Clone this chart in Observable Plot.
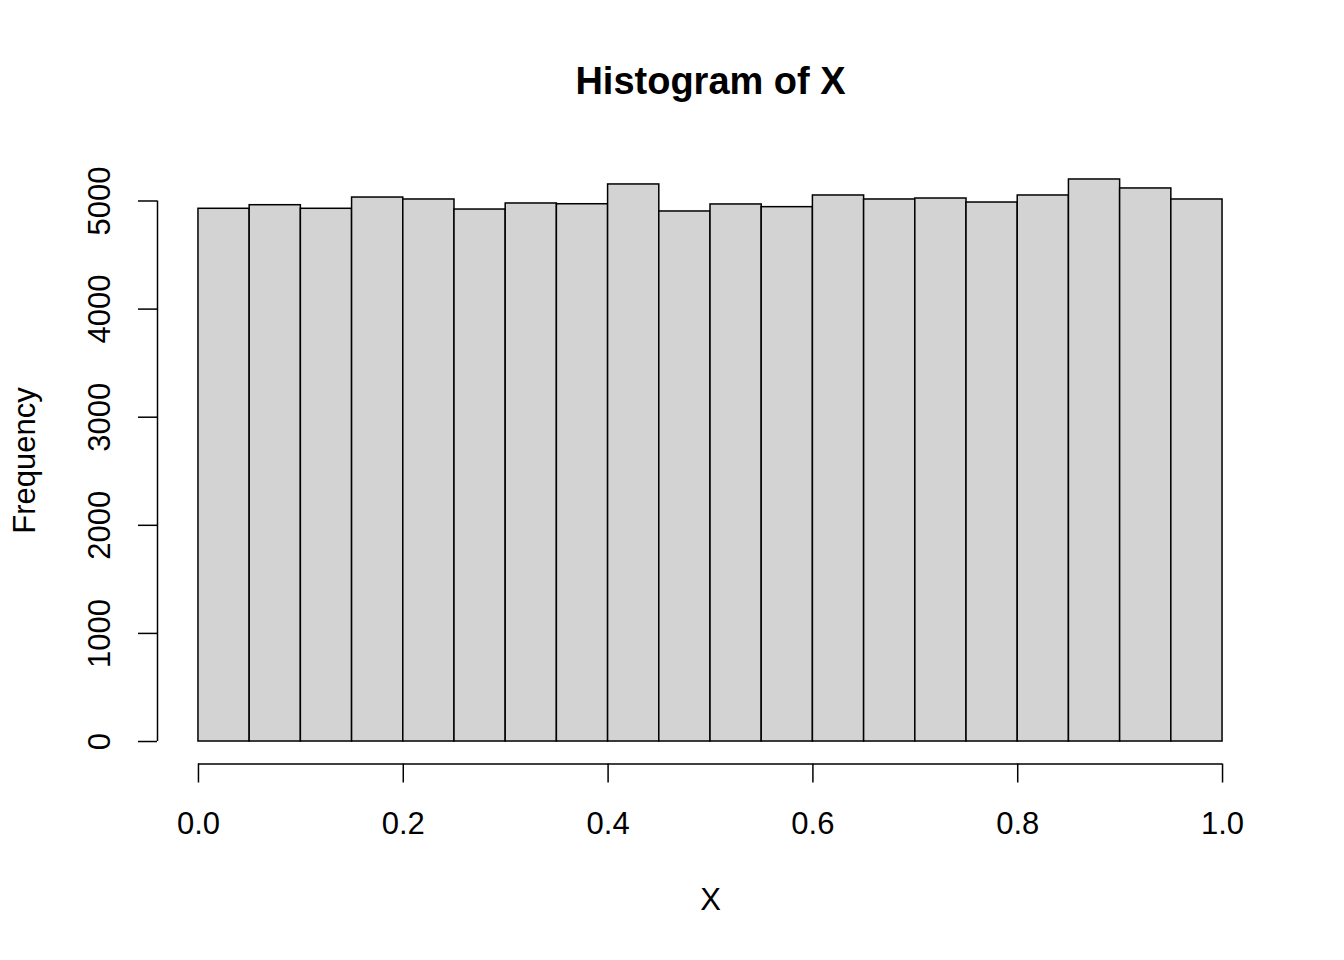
<!DOCTYPE html>
<html>
<head>
<meta charset="utf-8">
<script src="https://cdn.jsdelivr.net/npm/d3@7"></script>
<script src="https://cdn.jsdelivr.net/npm/@observablehq/plot@0.6"></script>
<style>
  html, body { margin: 0; padding: 0; background: #fff; }
  svg { display: block; }
</style>
</head>
<body>
<div id="chart"></div>
<script>
// ---- data ----
const binEdges = [0, 0.05, 0.1, 0.15, 0.2, 0.25, 0.3, 0.35, 0.4, 0.45, 0.5,
                  0.55, 0.6, 0.65, 0.7, 0.75, 0.8, 0.85, 0.9, 0.95, 1.0];
const counts = [4928, 4961, 4928, 5032, 5014, 4921, 4977, 4970, 5153, 4903,
                4968, 4943, 5051, 5014, 5023, 4986, 5051, 5199, 5116, 5014];
const xTicks = [0, 0.2, 0.4, 0.6, 0.8, 1.0];
const xTickLabels = ["0.0", "0.2", "0.4", "0.6", "0.8", "1.0"];
const yTicks = [0, 1000, 2000, 3000, 4000, 5000];
const yTickLabels = ["0", "1000", "2000", "3000", "4000", "5000"];
const titleText = "Histogram of X";
const xLabel = "X";
const yLabel = "Frequency";

const bins = counts.map((c, i) => ({x1: binEdges[i], x2: binEdges[i + 1], count: c}));

// R-style 4% axis extension
const xMin = binEdges[0], xMax = binEdges[binEdges.length - 1];
const xPad = 0.04 * (xMax - xMin);
const yMax = d3.max(counts);
const yPad = 0.04 * yMax;

const font = "'Liberation Sans', Arial, Helvetica, sans-serif";
const fs = 31;

const chart = Plot.plot({
  width: 1344,
  height: 960,
  marginLeft: 157,
  marginRight: 81,
  marginTop: 156.5,
  marginBottom: 196.5,
  style: {fontFamily: font, background: "#fff", color: "#000"},
  x: {domain: [xMin - xPad, xMax + xPad], axis: null},
  y: {domain: [0 - yPad, yMax + yPad], axis: null},
  marks: [
    Plot.rectY(bins, {x1: "x1", x2: "x2", y1: 0, y2: "count", fill: "#d3d3d3", stroke: "#000", strokeWidth: 1.5}),
    // x axis
    Plot.ruleY([0 - yPad], {x1: xTicks[0], x2: xTicks[xTicks.length - 1], stroke: "#000", strokeWidth: 1.5}),
    Plot.axisX({ticks: xTicks, tickSize: 19, tickPadding: 28.5, tickFormat: (d, i) => xTickLabels[i],
                fontSize: fs, strokeWidth: 1.5, label: null, anchor: "bottom"}),
    // y axis
    Plot.ruleX([xMin - xPad], {y1: yTicks[0], y2: yTicks[yTicks.length - 1], stroke: "#000", strokeWidth: 1.5}),
    Plot.axisY({ticks: yTicks, tickSize: 19, tickFormat: () => "", strokeWidth: 1.5, label: null, anchor: "left"}),
    Plot.text(yTicks, {y: d => d, text: (d, i) => yTickLabels[i], frameAnchor: "left", dx: -57,
                       rotate: -90, textAnchor: "middle", lineAnchor: "middle", fontSize: fs, fill: "#000"}),
    // titles
    Plot.text([titleText], {frameAnchor: "top", dy: 81 - 156.5, textAnchor: "middle", lineAnchor: "middle",
                            fontSize: 38, fontWeight: "bold", fill: "#000"}),
    Plot.text([xLabel], {x: [(xMin + xMax) / 2], frameAnchor: "bottom", dy: 900 - 763.5, textAnchor: "middle",
                         lineAnchor: "middle", fontSize: fs, fill: "#000"}),
    Plot.text([yLabel], {y: [yMax / 2], frameAnchor: "left", dx: 25 - 157, rotate: -90, textAnchor: "middle",
                         lineAnchor: "middle", fontSize: fs, fill: "#000"})
  ]
});
document.getElementById("chart").appendChild(chart);
</script>
</body>
</html>
